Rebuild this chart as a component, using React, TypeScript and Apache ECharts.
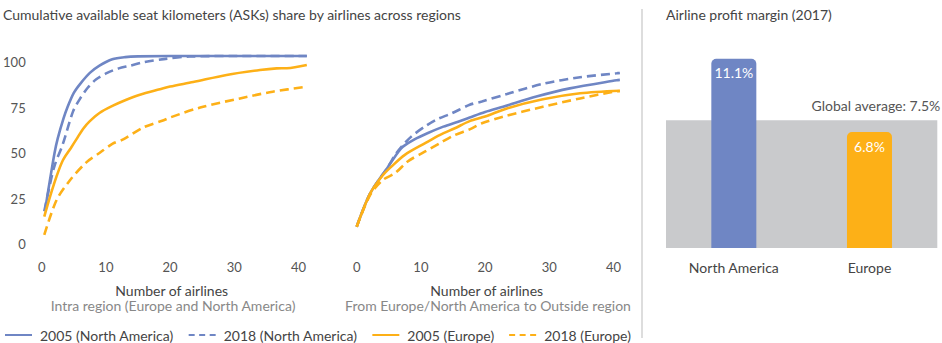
import React, { useEffect, useRef } from 'react';
import * as echarts from 'echarts';

const seriesNames = ['2005 (North America)', '2018 (North America)', '2005 (Europe)', '2018 (Europe)'];

// Intra region (Europe and North America): [number of airlines, cumulative ASK share %]
const intraNA2005 = [[0.5, 18], [1, 29], [2, 50], [2.5, 58], [3.4, 69], [4, 75], [5, 83], [6, 88], [7.5, 94], [9, 98], [11, 101.5], [13, 102.7], [15, 103.1], [20, 103.3], [30, 103.3], [41.3, 103.3]];
const intraNA2018 = [[0.4, 18], [1.3, 33], [2, 43], [3.3, 55], [4.9, 73], [6, 80], [7.2, 86], [8.5, 90.5], [10.2, 94], [12, 96.5], [13.8, 98], [16, 100], [19, 101.6], [23, 103], [30, 103.3], [41.3, 103.3]];
const intraEU2005 = [[0.4, 15], [1.3, 26], [2.3, 37], [3.3, 46], [4.5, 52.5], [5.4, 57.5], [6.5, 63.5], [7.5, 67.5], [9, 72], [11.1, 76], [13, 79], [15.3, 82], [18.4, 85], [20, 86.5], [23.6, 89], [28.8, 92.9], [34, 95.6], [36.6, 96.5], [38.2, 96.6], [41.3, 98.4]];
const intraEU2018 = [[0.4, 5], [2.3, 24], [4.4, 35], [7, 45], [9, 50], [11, 55], [12.7, 57.5], [15.8, 64], [19, 68], [20, 69.5], [24.7, 75], [30.9, 80], [36, 83.7], [41.3, 86.4]];

// From Europe/North America to Outside region
const outNA2005 = [[0, 9.5], [2.1, 27.8], [4.9, 42.5], [6.5, 50.7], [7.2, 53.5], [9, 57.5], [11.1, 61], [13.5, 64.5], [15.8, 67.2], [17.6, 69.5], [20, 72.5], [22.8, 75.4], [28, 81], [33.2, 85.5], [40.5, 90], [41, 90.2]];
const outNA2018 = [[0, 9.5], [2.1, 27.8], [4.9, 42.5], [6, 49], [7, 53.5], [8.5, 59], [10.6, 64.5], [12.5, 68.5], [14.8, 71.8], [17.6, 76.5], [19.5, 78.3], [23.4, 82.4], [29, 88], [34.8, 91.6], [40.5, 93.8], [41, 94]];
const outEU2005 = [[0, 9.5], [2.1, 27.8], [4, 37.5], [5.4, 42.5], [7.5, 49], [10.6, 55.3], [13, 60], [15.3, 63.6], [17.6, 67.5], [20, 70], [23.4, 74.5], [29, 79.5], [34.8, 82.8], [41, 84.2]];
const outEU2018 = [[0, 9.5], [2.1, 27], [4, 35], [6, 39], [8, 45.5], [10.6, 50.7], [13, 55.5], [15.3, 59.9], [17.6, 63], [19.5, 66.3], [22.8, 70], [29, 75.4], [34.8, 80], [40, 83.7], [41, 84]];

const profitRegions = ['North America', 'Europe'];
const profitMargins = [11.1, 6.8];
const globalAverage = 7.5;

const BLUE = '#6f86c4';
const ORANGE = '#fdb017';
const FONT = 'Lato';

export default function App() {
  const ref = useRef<HTMLDivElement>(null);
  useEffect(() => {
    if (!ref.current) return;
    const chart = echarts.init(ref.current, undefined, { renderer: 'svg' });

    const lineStyles = [
      { color: BLUE, type: 'solid' },
      { color: BLUE, type: [9, 5] },
      { color: ORANGE, type: 'solid' },
      { color: ORANGE, type: [9, 5] },
    ];
    const intraData = [intraNA2005, intraNA2018, intraEU2005, intraEU2018];
    const outData = [outNA2005, outNA2018, outEU2005, outEU2018];

    const mkLine = (name: string, data: number[][], idx: number, st: any) => ({
      type: 'line',
      name,
      data,
      xAxisIndex: idx,
      yAxisIndex: idx,
      smooth: 0.3,
      symbol: 'none',
      showSymbol: false,
      color: st.color,
      lineStyle: { color: st.color, width: 2.6, type: st.type },
      z: 3,
    });

    const series: any[] = [];
    seriesNames.forEach((n, i) => series.push(mkLine(n, intraData[i], 0, lineStyles[i])));
    seriesNames.forEach((n, i) => series.push(mkLine(n, outData[i], 1, lineStyles[i])));

    series.push({
      type: 'bar',
      name: 'Airline profit margin',
      xAxisIndex: 2,
      yAxisIndex: 2,
      barWidth: 45,
      data: profitMargins.map((v, i) => ({
        value: v,
        itemStyle: { color: i === 0 ? BLUE : ORANGE, borderRadius: [5, 5, 0, 0] },
      })),
      label: {
        show: true,
        position: 'insideTop',
        distance: 7,
        color: '#ffffff',
        fontSize: 14,
        fontFamily: FONT,
        formatter: '{c}%',
      },
      markArea: {
        silent: true,
        itemStyle: { color: '#c9cacc', opacity: 1 },
        label: {
          show: true,
          position: ['100%', -15],
          align: 'right',
          verticalAlign: 'middle',
          offset: [3, 0],
          color: '#555',
          fontSize: 14,
          fontFamily: FONT,
          formatter: () => `Global average: ${globalAverage}%`,
        },
        data: [[{ yAxis: 0 }, { yAxis: globalAverage }]],
      },
      z: 4,
    });

    const valueX = (gi: number) => ({
      type: 'value',
      gridIndex: gi,
      min: 0,
      max: 42,
      interval: 10,
      axisLine: { show: false },
      axisTick: { show: false },
      splitLine: { show: false },
      axisLabel: { color: '#555', fontSize: 13, fontFamily: FONT, margin: 16, showMaxLabel: false },
    });
    const valueY = (gi: number, showLabels: boolean) => ({
      type: 'value',
      gridIndex: gi,
      min: 0,
      max: 110,
      interval: 25,
      axisLine: { show: false },
      axisTick: { show: false },
      splitLine: { show: false },
      axisLabel: { show: showLabels, color: '#555', fontSize: 13, fontFamily: FONT, margin: 16, showMaxLabel: false },
    });

    const subText = (x: number, y: number, text: string, fill: string) => ({
      type: 'text',
      x,
      y,
      style: { text, fill, font: `14px ${FONT}`, align: 'center', verticalAlign: 'middle', lineHeight: 14 },
    });

    const legendData = seriesNames.map((name, i) =>
      i % 2 === 1 ? { name, lineStyle: { type: [6, 4.5] } } : { name }
    );

    const option: any = {
      animation: false,
      backgroundColor: '#ffffff',
      textStyle: { fontFamily: FONT },
      grid: [
        { left: 41.7, top: 43.8, width: 269.6, height: 200.2 },
        { left: 356.7, top: 43.8, width: 269.6, height: 200.2 },
        { left: 666, top: 43.4, width: 271.3, height: 204.6 },
      ],
      xAxis: [
        valueX(0),
        valueX(1),
        {
          type: 'category',
          gridIndex: 2,
          data: profitRegions,
          axisLine: { show: false },
          axisTick: { show: false },
          axisLabel: { color: '#444', fontSize: 14, fontFamily: FONT, margin: 12 },
        },
      ],
      yAxis: [
        valueY(0, true),
        valueY(1, false),
        {
          type: 'value',
          gridIndex: 2,
          min: 0,
          max: 12,
          axisLine: { show: false },
          axisTick: { show: false },
          axisLabel: { show: false },
          splitLine: { show: false },
        },
      ],
      legend: {
        data: legendData,
        left: 4,
        top: 328,
        itemWidth: 27,
        itemHeight: 14,
        itemGap: 14,
        padding: 0,
        itemStyle: { opacity: 0 },
        textStyle: { color: '#444', fontSize: 14, fontFamily: FONT, padding: [0, 0, 0, 3] },
      },
      graphic: [
        { type: 'text', left: 3, top: 7, style: { text: 'Cumulative available seat kilometers (ASKs) share by airlines across regions', fill: '#444', font: `14px ${FONT}` } },
        { type: 'text', left: 666, top: 7, style: { text: 'Airline profit margin (2017)', fill: '#444', font: `14px ${FONT}` } },
        subText(171.7, 290, 'Number of airlines', '#444'),
        subText(173, 305.5, 'Intra region (Europe and North America)', '#888'),
        subText(486.7, 290, 'Number of airlines', '#444'),
        subText(488, 305.5, 'From Europe/North America to Outside region', '#888'),
        { type: 'line', shape: { x1: 642, y1: 9, x2: 642, y2: 338 }, style: { stroke: '#bbbbbb', lineWidth: 1 } },
      ],
      series,
    };
    chart.setOption(option);
    return () => chart.dispose();
  }, []);
  return <div ref={ref} style={{ position: 'absolute', left: 0, top: 0, width: 942, height: 343 }} />;
}
